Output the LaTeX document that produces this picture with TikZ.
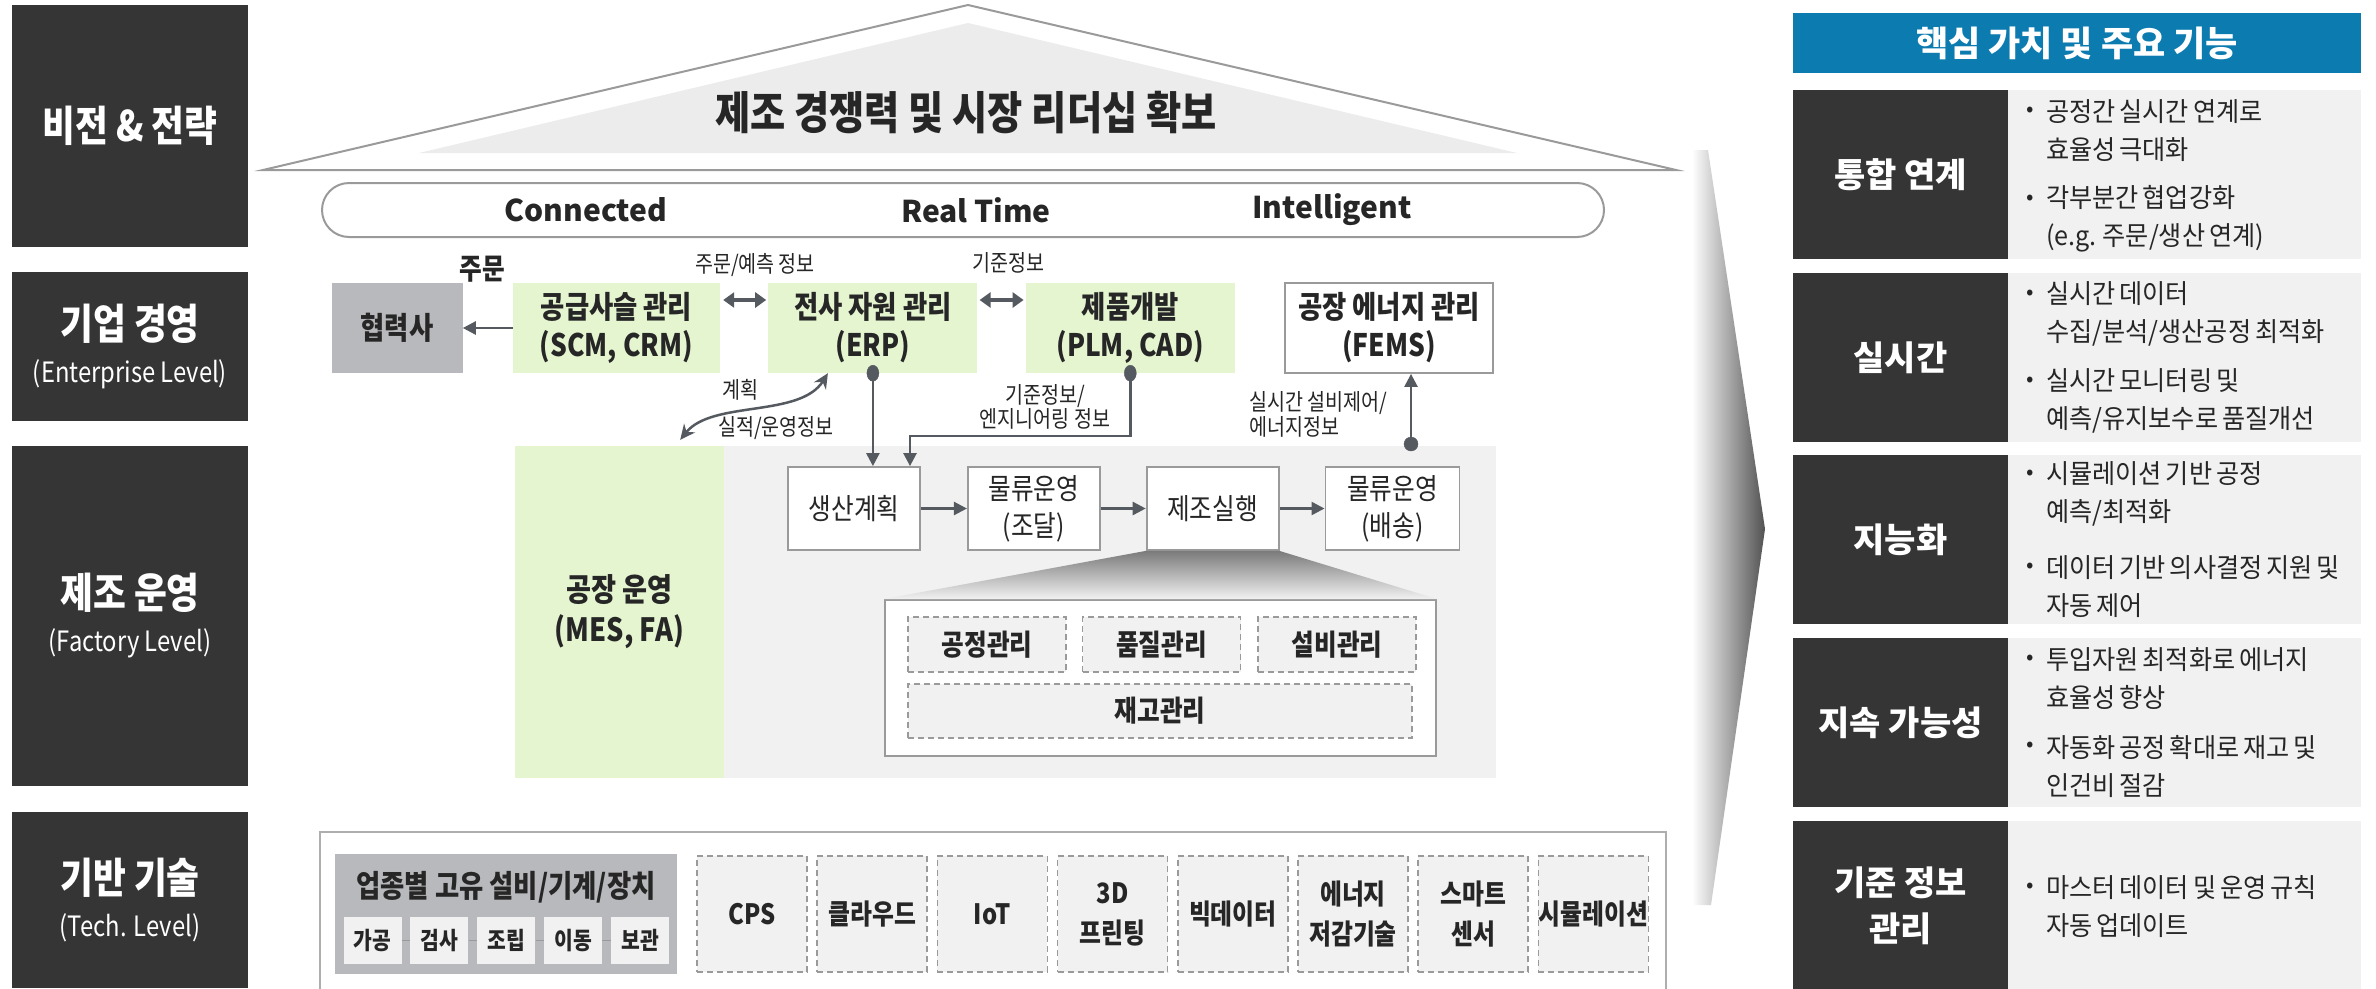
\documentclass[tikz,border=0pt]{standalone}
\usepackage{fontspec}
\setmainfont{Noto Sans CJK KR}
\newfontfamily\narrowfont[FakeStretch=0.85]{Noto Sans CJK KR}
\newfontfamily\bodyfont[FakeStretch=0.95]{Noto Sans CJK KR}
\usetikzlibrary{arrows.meta,positioning,calc}

\pgfdeclarelayer{back}
\pgfdeclarelayer{background}
\pgfsetlayers{back,background,main}

\definecolor{darkbox}{HTML}{353535}
\definecolor{pillar}{HTML}{C2E9E8}
\definecolor{leaf}{HTML}{E5F5D0}
\definecolor{partnergray}{HTML}{B8B9BC}
\definecolor{panel}{HTML}{F1F1F1}
\definecolor{roofgray}{HTML}{ECECEC}
\definecolor{loopgray}{HTML}{9C9D98}
\definecolor{arrowgray}{HTML}{555A60}
\definecolor{headblue}{HTML}{0C7BB0}
\definecolor{edgegray}{HTML}{9A9A9A}
\definecolor{ink}{HTML}{262626}
\definecolor{faintteal}{HTML}{DDF2EF}

\newcommand{\fsz}[2]{\fontsize{#1}{#2}\selectfont}
\newcommand{\tightspaces}{\spaceskip 0.15em\relax}

\tikzset{
  lvl/.style={fill=darkbox, text=white, align=center, inner sep=0pt, minimum width=236,
    font=\narrowfont\bfseries\fsz{42}{43}},
  bandtxt/.style={font=\bfseries\fsz{30}{34}, text=ink},
  mod/.style={fill=leaf, align=center, inner sep=0pt, minimum height=90,
    font=\narrowfont\bfseries\fsz{31}{38}, text=ink},
  procbox/.style={draw=edgegray, line width=1.8pt, fill=white, align=center, inner sep=0pt,
    minimum width=132, minimum height=83, font=\narrowfont\fsz{29}{37}, text=ink},
  dashbox/.style={draw=edgegray, line width=1.6pt, dash pattern=on 6pt off 4pt, fill=panel,
    align=center, inner sep=0pt, font=\narrowfont\bfseries\fsz{29}{38}, text=ink},
  subbox/.style={fill=panel, minimum width=58, minimum height=47, inner sep=0pt,
    font=\narrowfont\bfseries\fsz{24}{28}, text=ink},
  note/.style={font=\narrowfont\fsz{23}{25}, text=ink, align=center, inner sep=1pt},
  flow/.style={draw=arrowgray, line width=2.5pt, -{Triangle[length=13pt,width=13pt]}},
  twoway/.style={draw=arrowgray, line width=4pt,
    {Triangle[length=11pt,width=15pt]}-{Triangle[length=11pt,width=15pt]}},
  curvy/.style={draw=arrowgray, line width=2.5pt,
    {Stealth[length=15pt,width=14pt]}-{Stealth[length=15pt,width=14pt]}},
  loopline/.style={draw=loopgray, line width=10pt},
  valuelbl/.style={fill=darkbox, text=white, align=center, inner sep=0pt,
    minimum width=215, minimum height=169, font=\bfseries\fsz{34}{46}},
  valuebody/.style={fill=panel, inner sep=0pt, minimum width=353, minimum height=169},
  dot/.style={font=\fsz{22}{24}, text=ink, inner sep=0pt},
  valuetxt/.style={anchor=west, align=left, inner sep=0pt, text=ink,
    font=\bodyfont\fsz{26.5}{38}\tightspaces},
}

\begin{document}
\begin{tikzpicture}[x=1pt,y=-1pt]
    \useasboundingbox (0,0) rectangle (2376,988);
    \fill[white] (0,0) rectangle (2376,988);

    % pillars and faint decoration
    \begin{pgfonlayer}{back}
        \fill[pillar] (433,170) rectangle (698,832);
        \fill[pillar] (858,170) rectangle (1123,832);
        \fill[pillar] (1212,170) rectangle (1476,832);
        \draw[faintteal, line width=2pt] (1745,217) -- (1800,320);
        \fill[faintteal] (1745,217) circle (12);
    \end{pgfonlayer}

    % levels on the left
    \node[lvl, minimum height=242] (vision) at (130,126) {비전 \& 전략};
    \node[lvl, minimum height=149] (enterprise) at (130,346.5) {기업 경영\\{\mdseries\fsz{28}{43}(Enterprise Level)}};
    \node[lvl, minimum height=340] (factory) at (130,616) {제조 운영\\{\mdseries\fsz{28}{43}(Factory Level)}};
    \node[lvl, minimum height=176] (techlevel) at (130,900) {기반 기술\\{\mdseries\fsz{28}{43}(Tech. Level)}};

    % roof
    \coordinate (roofL) at (263,170);
    \coordinate (roofT) at (968,5);
    \coordinate (roofR) at (1676,170);
    \filldraw[draw=edgegray, fill=white, line width=2pt] (roofL) -- (roofT) -- (roofR) -- cycle;
    \fill[roofgray] (419,153) -- (968,23) -- (1517,153) -- cycle;
    \node[font=\narrowfont\bfseries\fsz{45}{48}, text=ink] (goal) at (966,113) {제조 경쟁력 및 시장 리더십 확보};

    % band
    \node[draw=edgegray, line width=2pt, fill=white, rounded corners=27pt,
          minimum width=1282, minimum height=54] (band) at (963,210) {};
    \node[bandtxt] (connected) at (586,210) {Connected};
    \node[bandtxt] (realtime) at (976,210) {Real Time};
    \node[bandtxt] (intelligent) at (1332,210) {Intelligent};

    % enterprise row
    \node[mod, minimum width=207] (scm) at (616.5,328) {공급사슬 관리\\(SCM, CRM)};
    \node[mod, fill=partnergray, minimum width=131, left=50pt of scm] (partner) {협력사};
    \node[mod, minimum width=209, right=48pt of scm] (erp) {전사 자원 관리\\(ERP)};
    \node[mod, minimum width=209, right=48pt of erp] (plm) {제품개발\\(PLM, CAD)};
    \node[mod, fill=white, draw=edgegray, line width=1.8pt, minimum width=208, right=49pt of plm] (fems) {공장 에너지 관리\\(FEMS)};
    \node[font=\narrowfont\bfseries\fsz{29}{30}, text=ink] (orderlbl) at (482,269) {주문};

    % factory area
    \node[fill=panel, inner sep=0pt, minimum width=772, minimum height=332] (shopfloor) at (1110,612) {};
    \node[mod, minimum width=209, minimum height=332, font=\narrowfont\bfseries\fsz{32}{40}] (mes) at (619.5,612) {공장 운영\\(MES, FA)};
    \node[procbox] (plan) at (854,508.5) {생산계획};
    \node[procbox, right=46pt of plan] (procure) {물류운영\\(조달)};
    \node[procbox, right=45pt of procure] (exec) {제조실행};
    \node[procbox, right=45pt of exec, minimum width=134] (ship) {물류운영\\(배송)};
    \draw[flow] (plan) -- (procure);
    \draw[flow] (procure) -- (exec);
    \draw[flow] (exec) -- (ship);

    \node[draw=edgegray, line width=2pt, fill=white, minimum width=551, minimum height=156] (detail) at (1160.5,678) {};
    \shade[top color=black!52, bottom color=panel] (exec.south west) -- (exec.south east)
        -- (detail.north east) -- (detail.north west) -- cycle;
    \node[dashbox, minimum width=158, minimum height=55] (procctl) at (987,644.5) {공정관리};
    \node[dashbox, minimum width=158, minimum height=55, right=15pt of procctl] (quality) {품질관리};
    \node[dashbox, minimum width=158, minimum height=55, right=16pt of quality] (equip) {설비관리};
    \node[dashbox, minimum width=504, minimum height=54] (stock) at (1160,711) {재고관리};

    % gray loop behind the boxes
    \coordinate (loopSW) at (617,795);
    \coordinate (loopSE) at (1537,795);
    \coordinate (loopNE) at (1537,349);
    \begin{pgfonlayer}{background}
        \draw[loopline] ([yshift=-21pt]scm.east) -- ([yshift=-21pt]fems.west);
        \draw[loopline] (scm.center) -- (loopSW) -- (loopSE) -- (loopNE) -- (fems.center |- loopNE);
    \end{pgfonlayer}

    % connectors of the enterprise row
    \draw[flow] (scm) -- (partner);
    \draw[twoway, shorten <=3pt, shorten >=2pt] ([yshift=28pt]scm.east) -- ([yshift=28pt]erp.west);
    \draw[twoway, shorten <=2pt, shorten >=2pt] ([yshift=28pt]erp.east) -- ([yshift=28pt]plm.west);
    \node[note] (ordlbl) at (755,265) {주문/예측 정보};
    \node[note] (stdlbl) at (1008,263) {기준정보};

    \draw[flow] (erp.south) -- (erp.south |- plan.north);
    \filldraw[arrowgray] (erp.south) ellipse (6 and 8);

    \coordinate (plmbend) at (910,436);
    \draw[flow] (plm.south) |- (plmbend) -- (plmbend |- plan.north);
    \filldraw[arrowgray] (plm.south) ellipse (6 and 8);
    \node[note, font=\narrowfont\fsz{23}{24}] (englbl) at (1045,407) {기준정보/\\엔지니어링 정보};

    \coordinate (feedA) at ([xshift=-44pt,yshift=6pt]mes.north east);
    \coordinate (feedB) at ([xshift=-45pt]erp.south);
    \draw[curvy] (feedA) .. controls (712,400) and (800,418) .. (feedB);
    \node[note] (planlbl) at (740,390) {계획};
    \node[note] (resultlbl) at (776,428) {실적/운영정보};

    \coordinate (energytap) at (1411,444);
    \draw[flow] (energytap) -- (energytap |- fems.south);
    \filldraw[arrowgray] (energytap) circle (7);
    \node[note, anchor=west, align=left, font=\narrowfont\fsz{23}{25}] (energylbl) at (1248,414) {실시간 설비제어/\\에너지정보};

    % technology base
    \node[draw=edgegray!80, line width=1.5pt, fill=white, minimum width=1346, minimum height=180] (techbase) at (993,922) {};
    \node[fill=partnergray, inner sep=0pt, minimum width=342, minimum height=120] (machines) at (506,914) {};
    \node[font=\narrowfont\bfseries\fsz{31}{32}, text=ink] (machtitle) at (506,887) {업종별 고유 설비/기계/장치};
    \node[subbox] (m1) at (372.5,940.5) {가공};
    \node[subbox, right=8.5pt of m1] (m2) {검사};
    \node[subbox, right=8.5pt of m2] (m3) {조립};
    \node[subbox, right=8.5pt of m3] (m4) {이동};
    \node[subbox, right=8.5pt of m4] (m5) {보관};
    \foreach \a/\b in {m1/m2, m2/m3, m3/m4, m4/m5}
        \draw[edgegray, line width=1.5pt] (\a) -- (\b);

    \foreach \i/\txt in {0/CPS, 1/클라우드, 2/IoT, 3/{3D\\프린팅}, 4/빅데이터, 5/{에너지\\저감기술}, 6/{스마트\\센서}, 7/시뮬레이션}
        \node[dashbox, minimum width=110, minimum height=116, font=\narrowfont\bfseries\fsz{28}{40}] (tech\i) at ({752+120.2*\i},914) {\txt};

    % chevron
    \shade[left color=white, right color=black!68] (1692,150) -- (1708,150) -- (1765,529)
        -- (1711,905) -- (1692,905) -- cycle;

    % values on the right
    \node[fill=headblue, text=white, minimum width=568, minimum height=60, inner sep=0pt,
          font=\bfseries\fsz{35}{38}] (valuehead) at (2077,43) {핵심 가치 및 주요 기능};
    \foreach \n/\y/\lbl in {integ/174.5/통합 연계, real/357.5/실시간, smart/539.5/지능화,
                            sustain/722.5/지속 가능성, master/905.5/{기준 정보\\관리}} {
        \node[valuelbl] (\n) at (1900.5,\y) {\lbl};
        \node[valuebody, right=0pt of \n] (\n body) {};
    }
    \foreach \k/\y/\txt in {1/112/{공정간 실시간 연계로\\효율성 극대화},
                            2/200/{각부분간 협업강화\\(e.g. 주문/생산 연계)},
                            3/295/{실시간 데이터\\수집/분석/생산공정 최적화},
                            4/382/{실시간 모니터링 및\\예측/유지보수로 품질개선},
                            5/475/{시뮬레이션 기반 공정\\예측/최적화},
                            6/568/{데이터 기반 의사결정 지원 및\\자동 제어},
                            7/660/{투입자원 최적화로 에너지\\효율성 향상},
                            8/747/{자동화 공정 확대로 재고 및\\인건비 절감},
                            9/888/{마스터 데이터 및 운영 규칙\\자동 업데이트}} {
        \node[dot] (b\k) at (2030,\y) {•};
        \node[valuetxt] (v\k) at (2046,{\y+19}) {\txt};
    }
\end{tikzpicture}
\end{document}
